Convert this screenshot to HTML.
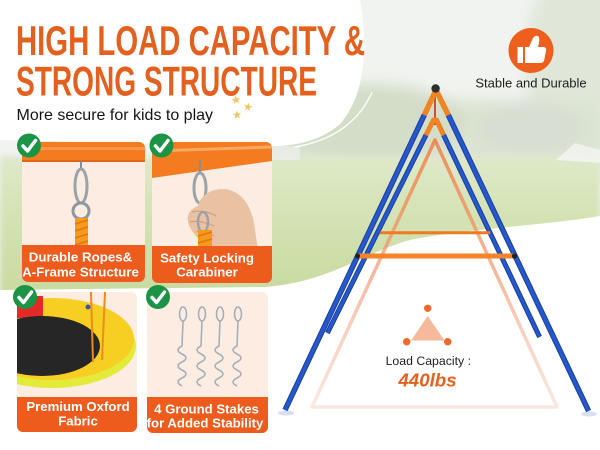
<!DOCTYPE html>
<html><head><meta charset="utf-8"><style>
html,body{margin:0;padding:0;width:600px;height:450px;overflow:hidden;background:#fff}
svg{display:block}
text{font-family:"Liberation Sans",Arial,sans-serif}
</style></head><body>
<svg width="600" height="450" viewBox="0 0 600 450" xmlns="http://www.w3.org/2000/svg">
<defs>
 <linearGradient id="grass" x1="0" y1="150" x2="0" y2="295" gradientUnits="userSpaceOnUse">
  <stop offset="0" stop-color="#e0e9cd"/>
  <stop offset="0.4" stop-color="#d5e3b6"/>
  <stop offset="1" stop-color="#c8db a0"/>
 </linearGradient>
 <linearGradient id="grass2" x1="0" y1="150" x2="0" y2="295" gradientUnits="userSpaceOnUse">
  <stop offset="0" stop-color="#e0e9cd"/>
  <stop offset="0.4" stop-color="#d5e3b6"/>
  <stop offset="1" stop-color="#c8dba0"/>
 </linearGradient>
 <linearGradient id="tri" x1="0" y1="140" x2="0" y2="407" gradientUnits="userSpaceOnUse">
  <stop offset="0" stop-color="#f07a3a" stop-opacity="0.8"/>
  <stop offset="0.5" stop-color="#f39a72" stop-opacity="0.7"/>
  <stop offset="1" stop-color="#f8cfc2" stop-opacity="0.5"/>
 </linearGradient>
 <filter id="blur" x="-20%" y="-20%" width="140%" height="140%"><feGaussianBlur stdDeviation="7"/></filter>
 <filter id="blur2" x="-5%" y="-20%" width="110%" height="140%"><feGaussianBlur stdDeviation="3"/></filter>
 <clipPath id="c1"><rect x="22" y="142" width="123" height="140" rx="6"/></clipPath>
 <clipPath id="c2"><rect x="152" y="142" width="120" height="141" rx="6"/></clipPath>
 <clipPath id="c3"><rect x="17" y="292" width="120" height="140" rx="6"/></clipPath>
 <clipPath id="c4"><rect x="147" y="292" width="121" height="141" rx="6"/></clipPath>
 <path id="star" d="M0,-4.5 L1.12,-1.54 L4.28,-1.39 L1.81,0.59 L2.65,3.64 L0,1.9 L-2.65,3.64 L-1.81,0.59 L-4.28,-1.39 L-1.12,-1.54 Z" fill="#f4c86a"/>
</defs>

<!-- background photo approximation -->
<rect width="600" height="450" fill="#f1f3f0"/>
<g filter="url(#blur)">
 <ellipse cx="595" cy="60" rx="70" ry="110" fill="#e0e7d9"/>
 <rect x="240" y="100" width="360" height="65" fill="#dbe3d2"/>
 <ellipse cx="370" cy="122" rx="95" ry="38" fill="#d3ddc8"/>
 <ellipse cx="530" cy="128" rx="55" ry="25" fill="#d8dfd2"/>
</g>
<rect x="0" y="156" width="600" height="144" fill="url(#grass2)" filter="url(#blur2)"/>
<polygon points="556,160 575,143 600,150 600,163" fill="#f4f5f2" opacity="0.8"/>
<polygon points="255,160 275,145 300,147 300,160" fill="#eef0ec" opacity="0.7"/>
<!-- white bottom -->
<path d="M0,290 L265,287 C330,282 365,252 410,240 C470,228 540,226 600,216 L600,450 L0,450 Z" fill="#ffffff"/>
<!-- white blob top-left -->
<path d="M0,0 L360,0 C368,45 366,95 340,124 C320,142 292,147 262,146 L0,140 Z" fill="#ffffff"/>
<path d="M372,92 C360,120 335,140 295,147" fill="none" stroke="#ffffff" stroke-width="1.5" opacity="0.9"/>

<!-- faded triangle outline -->
<path d="M435,140 L312,407 L557,407 Z" fill="none" stroke="url(#tri)" stroke-width="3.5" stroke-linejoin="round"/>

<!-- Title -->
<text x="16" y="55" font-size="42" font-weight="bold" fill="#e4601e" textLength="349" lengthAdjust="spacingAndGlyphs">HIGH LOAD CAPACITY &amp;</text>
<text x="16" y="95.5" font-size="42" font-weight="bold" fill="#e4601e" textLength="301" lengthAdjust="spacingAndGlyphs">STRONG STRUCTURE</text>
<text x="16.5" y="120" font-size="16" fill="#151515">More secure for kids to play</text>
<use href="#star" transform="translate(236,100) rotate(-10)"/>
<use href="#star" transform="translate(248,107) rotate(12)"/>
<use href="#star" transform="translate(237,115) rotate(-5)"/>

<!-- Card 1 -->
<g clip-path="url(#c1)">
 <rect x="22" y="142" width="123" height="140" fill="#fdece2"/>
 <rect x="22" y="142" width="123" height="20" fill="#f47b20"/>
 <rect x="22" y="147" width="123" height="3" fill="#f9a55a" opacity="0.7"/>
 <rect x="22" y="160" width="123" height="2" fill="#de661a"/>
 <line x1="81" y1="161" x2="81" y2="169" stroke="#858c94" stroke-width="2"/>
 <ellipse cx="81" cy="186" rx="6" ry="17" fill="none" stroke="#9aa2aa" stroke-width="3"/>
 <circle cx="81" cy="211" r="8" fill="none" stroke="#8e969e" stroke-width="3"/>
 <rect x="75" y="218" width="13" height="30" fill="#f59a1c"/>
 <path d="M75,224 L88,220 M75,231 L88,227 M75,238 L88,234 M75,245 L88,241" stroke="#e0780f" stroke-width="1.5"/>
 <rect x="22" y="245" width="123" height="37" fill="#ee5c1d"/>
</g>
<text x="80.5" y="261.7" font-size="13.3" font-weight="bold" fill="#ffffff" text-anchor="middle">Durable Ropes&amp;</text>
<text x="80.5" y="276.7" font-size="13.3" font-weight="bold" fill="#ffffff" text-anchor="middle">A-Frame Structure</text>

<!-- Card 2 -->
<g clip-path="url(#c2)">
 <rect x="152" y="142" width="120" height="141" fill="#fdece2"/>
 <polygon points="152,142 272,142 272,161 152,178" fill="#f47b20"/>
 <line x1="152" y1="151" x2="272" y2="147" stroke="#f9a860" stroke-width="3"/>
 <line x1="200" y1="160" x2="200" y2="172" stroke="#858c94" stroke-width="2"/>
 <ellipse cx="200" cy="188" rx="6" ry="15" fill="none" stroke="#9aa2aa" stroke-width="3"/>
 <path d="M215,190 C235,185 252,200 255,230 L258,250 L205,250 C200,238 190,232 188,222 C186,214 192,208 198,206 C200,198 206,192 215,190 Z" fill="#e9c2a3"/>
 <path d="M192,212 C200,210 210,212 216,216 M190,222 C198,220 208,223 214,226 M196,232 C202,230 210,233 214,236" fill="none" stroke="#d19f80" stroke-width="1.2"/>
 <ellipse cx="203" cy="222" rx="5" ry="10" fill="none" stroke="#9aa2aa" stroke-width="2.5"/>
 <rect x="198" y="230" width="14" height="20" fill="#f59a1c"/>
 <path d="M198,236 L212,232 M198,243 L212,239" stroke="#e0780f" stroke-width="1.5"/>
 <rect x="152" y="246" width="120" height="37" fill="#ee5c1d"/>
</g>
<text x="207" y="262.3" font-size="13.2" font-weight="bold" fill="#ffffff" text-anchor="middle">Safety Locking</text>
<text x="207" y="276.7" font-size="13.2" font-weight="bold" fill="#ffffff" text-anchor="middle">Carabiner</text>

<!-- Card 3 -->
<g clip-path="url(#c3)">
 <rect x="17" y="292" width="120" height="140" fill="#fdece2"/>
 <ellipse cx="52" cy="346" rx="84" ry="42" fill="#e3ea3a"/>
 <ellipse cx="52" cy="339" rx="82" ry="41" fill="#f6cf22"/>
 <rect x="17" y="296" width="26" height="22" fill="#e22a28"/>
 <ellipse cx="42" cy="346" rx="58" ry="30" fill="#262626"/>
 <line x1="91" y1="292" x2="93" y2="362" stroke="#f08a20" stroke-width="2"/>
 <line x1="105" y1="292" x2="102" y2="360" stroke="#f08a20" stroke-width="2"/>
 <circle cx="88" cy="307" r="2.5" fill="#3858a8"/>
 <rect x="17" y="397" width="120" height="36" fill="#ee5c1d"/>
</g>
<text x="78" y="411" font-size="13.2" font-weight="bold" fill="#ffffff" text-anchor="middle">Premium Oxford</text>
<text x="78" y="425.7" font-size="13.2" font-weight="bold" fill="#ffffff" text-anchor="middle">Fabric</text>

<!-- Card 4 -->
<g clip-path="url(#c4)">
 <rect x="147" y="292" width="121" height="141" fill="#fdece2"/>
 <g fill="none" stroke="#a5afb8" stroke-width="1.6">
  <ellipse cx="183" cy="314" rx="3.5" ry="7"/>
  <path d="M183,321 L182,346 Q174,350 182,354 Q190,358 182,362 Q174,366 182,370 Q190,374 182,378 Q174,382 182,386"/>
  <ellipse cx="202" cy="314" rx="3.5" ry="7"/>
  <path d="M202,321 L201,346 Q193,350 201,354 Q209,358 201,362 Q193,366 201,370 Q209,374 201,378 Q193,382 201,386"/>
  <ellipse cx="220" cy="314" rx="3.5" ry="7"/>
  <path d="M220,321 L219,346 Q211,350 219,354 Q227,358 219,362 Q211,366 219,370 Q227,374 219,378 Q211,382 219,386"/>
  <ellipse cx="238" cy="314" rx="3.5" ry="7"/>
  <path d="M238,321 L237,346 Q229,350 237,354 Q245,358 237,362 Q229,366 237,370 Q245,374 237,378 Q229,382 237,386"/>
 </g>
 <rect x="147" y="397" width="121" height="36" fill="#ee5c1d"/>
</g>
<text x="206.5" y="413.3" font-size="13.2" font-weight="bold" fill="#ffffff" text-anchor="middle">4 Ground Stakes</text>
<text x="205" y="427.7" font-size="13.2" font-weight="bold" fill="#ffffff" text-anchor="middle">for Added Stability</text>

<!-- check circles -->
<g>
 <circle cx="29" cy="145.5" r="12" fill="#1c9446"/>
 <path d="M23,146 L27.5,151 L35.5,140.5" fill="none" stroke="#fff" stroke-width="3.5" stroke-linecap="round" stroke-linejoin="round"/>
 <circle cx="161.5" cy="145.5" r="12" fill="#1c9446"/>
 <path d="M155.5,146 L160,151 L168,140.5" fill="none" stroke="#fff" stroke-width="3.5" stroke-linecap="round" stroke-linejoin="round"/>
 <circle cx="25" cy="297" r="12" fill="#1c9446"/>
 <path d="M19,297.5 L23.5,302.5 L31.5,292" fill="none" stroke="#fff" stroke-width="3.5" stroke-linecap="round" stroke-linejoin="round"/>
 <circle cx="158" cy="297" r="12" fill="#1c9446"/>
 <path d="M152,297.5 L156.5,302.5 L164.5,292" fill="none" stroke="#fff" stroke-width="3.5" stroke-linecap="round" stroke-linejoin="round"/>
</g>

<!-- A-frame -->
<ellipse cx="286" cy="413" rx="8" ry="2.5" fill="#d6e0f3"/>
<ellipse cx="589" cy="414" rx="8" ry="2.5" fill="#d6e0f3"/>
<line x1="435" y1="95" x2="435" y2="125" stroke="#c8503c" stroke-width="2"/>
<!-- inner legs -->
<line x1="426" y1="135" x2="327.4" y2="333" stroke="#1b3f9e" stroke-width="5"/>
<line x1="426" y1="135" x2="327.4" y2="333" stroke="#2458cc" stroke-width="3"/>
<line x1="443.6" y1="135" x2="539.6" y2="337" stroke="#1b3f9e" stroke-width="5"/>
<line x1="443.6" y1="135" x2="539.6" y2="337" stroke="#2458cc" stroke-width="3"/>
<polyline points="426,135 433.5,120 436.5,120 443.6,135" fill="none" stroke="#f08424" stroke-width="5" stroke-linejoin="round"/>
<!-- outer legs -->
<line x1="424.3" y1="115" x2="285" y2="410" stroke="#1b3f9e" stroke-width="5.5"/>
<line x1="424.3" y1="115" x2="285" y2="410" stroke="#2458cc" stroke-width="3.5"/>
<line x1="448.3" y1="115" x2="588.6" y2="411" stroke="#1b3f9e" stroke-width="5.5"/>
<line x1="448.3" y1="115" x2="588.6" y2="411" stroke="#2458cc" stroke-width="3.5"/>
<line x1="435.5" y1="91" x2="424.3" y2="115" stroke="#f08424" stroke-width="5.5"/>
<line x1="436.5" y1="91" x2="448.3" y2="115" stroke="#f08424" stroke-width="5.5"/>
<circle cx="435.6" cy="88.5" r="4.2" fill="#2e2e2e"/>
<!-- crossbars -->
<line x1="380" y1="232.7" x2="490" y2="232.7" stroke="#f07a22" stroke-width="3"/>
<line x1="357" y1="256" x2="515" y2="256" stroke="#f5832a" stroke-width="5"/>
<circle cx="357.5" cy="256" r="2.6" fill="#222"/>
<circle cx="514.5" cy="256" r="2.6" fill="#222"/>

<!-- Stable and Durable -->
<circle cx="531" cy="50.5" r="22.5" fill="#ee5f1e"/>
<rect x="517.5" y="47" width="5.5" height="16" fill="#ffffff"/>
<path d="M525,47 L529,47 L533,38 Q535,35 538,36 Q540,38 539,43 L538,47 L544,47 Q547,48 546,51 L544,61 Q543,63 540,63 L525,63 Z" fill="#ffffff"/>
<text x="531" y="87.3" font-size="13" fill="#1e1e1e" text-anchor="middle">Stable and Durable</text>

<!-- load capacity -->
<polygon points="427.7,316 411,340.5 444.5,340.5" fill="#f6b99b"/>
<circle cx="427.7" cy="308.3" r="3.7" fill="#ef6a2a"/>
<circle cx="406.7" cy="341.7" r="3.7" fill="#ef6a2a"/>
<circle cx="447.7" cy="341.7" r="3.7" fill="#ef6a2a"/>
<text x="428.3" y="365" font-size="12.3" fill="#1e1e1e" text-anchor="middle">Load Capacity :</text>
<text x="427.5" y="386.7" font-size="18.7" font-weight="bold" font-style="italic" fill="#e8601d" text-anchor="middle">440lbs</text>
</svg>
</body></html>
